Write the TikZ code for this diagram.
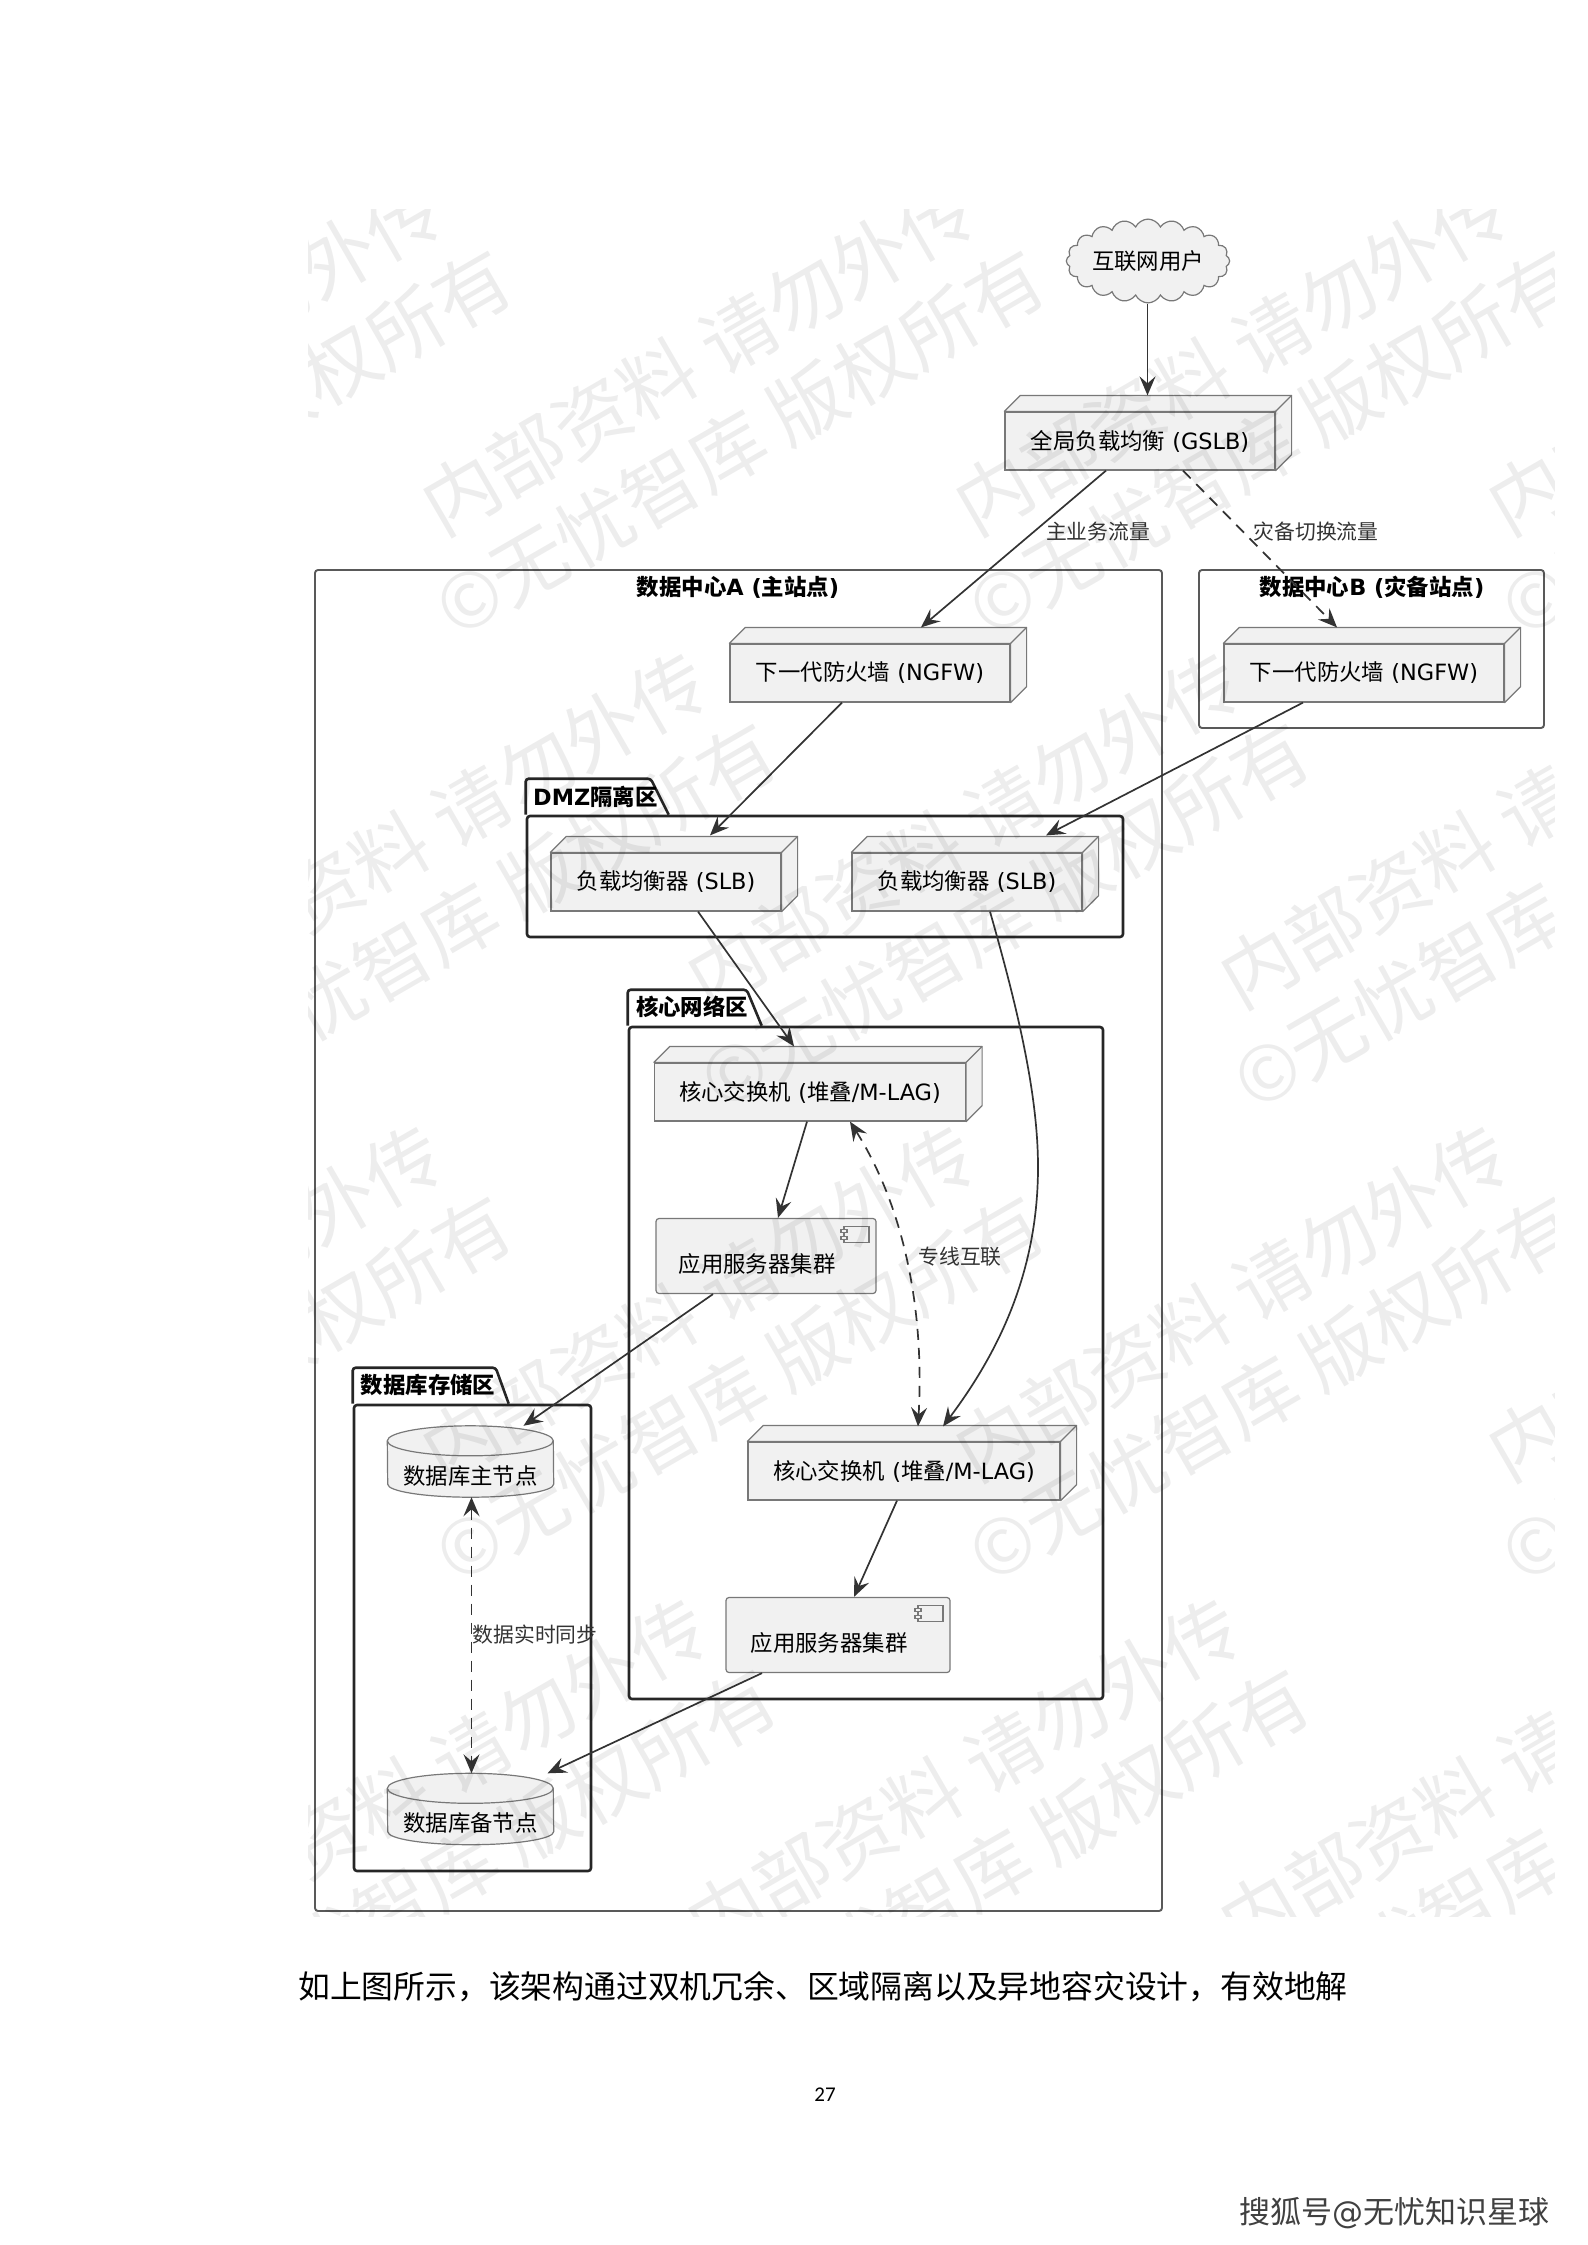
\documentclass[tikz,border=0pt]{standalone}
\usepackage{fontspec}
\setmainfont{DejaVu Sans}
\newfontfamily\cjk{Noto Sans CJK SC}
\newfontfamily\pagefont{Carlito}
\usetikzlibrary{arrows.meta, positioning, shapes.symbols, calc}
\definecolor{boxfill}{RGB}{241, 241, 241}
\definecolor{boxline}{RGB}{120, 120, 120}
\definecolor{flowline}{RGB}{51, 51, 51}
\newcommand{\zh}[1]{{\cjk #1}}
\newcommand{\mainsize}{\fontsize{22.4}{27}\selectfont}
\newcommand{\edgesize}{\fontsize{20.8}{25}\selectfont}

\begin{document}
\begin{tikzpicture}[x=1pt, y=-1pt,
    devbox/.style={draw=boxline, fill=boxfill, line width=1.2pt, minimum width=#1, minimum height=58,
                   inner sep=0pt, font=\mainsize,
                   append after command={\pgfextra{
                       \draw[draw=boxline, fill=boxfill, line width=1.2pt, line join=round]
                           (\tikzlastnode.north west) -- ++(16,-16) -- ([xshift=16pt,yshift=16pt]\tikzlastnode.north east)
                           -- ([xshift=16pt,yshift=16pt]\tikzlastnode.south east) -- (\tikzlastnode.south east)
                           -- (\tikzlastnode.north east) -- cycle;
                       \draw[draw=boxline, line width=1.2pt] (\tikzlastnode.north east) -- ++(16,-16);
                   }}},
    compbox/.style={draw=boxline, fill=boxfill, line width=1.2pt, rounded corners=3pt, minimum width=#1, minimum height=75,
                    inner sep=0pt, font=\mainsize, text height=35pt, text depth=3pt,
                    execute at end node={\hspace*{18pt}},
                    path picture={
                        \draw[draw=boxline, fill=boxfill, line width=1.1pt, sharp corners]
                            ([xshift=-32pt,yshift=-8pt]path picture bounding box.north east) rectangle ([xshift=-7pt,yshift=-24pt]path picture bounding box.north east);
                        \draw[draw=boxline, fill=boxfill, line width=1.1pt, sharp corners]
                            ([xshift=-35pt,yshift=-11pt]path picture bounding box.north east) rectangle ([xshift=-29pt,yshift=-14pt]path picture bounding box.north east);
                        \draw[draw=boxline, fill=boxfill, line width=1.1pt, sharp corners]
                            ([xshift=-35pt,yshift=-18pt]path picture bounding box.north east) rectangle ([xshift=-29pt,yshift=-21pt]path picture bounding box.north east);
                    }},
    dbbox/.style={minimum width=166, minimum height=71, inner sep=0pt, font=\mainsize, text height=48pt, text depth=3pt,
                  append after command={\pgfextra{
                      \draw[draw=boxline, fill=boxfill, line width=1.2pt]
                          ([yshift=-15pt]\tikzlastnode.north west) arc[x radius=83pt, y radius=15pt, start angle=180, end angle=0]
                          -- ([yshift=13pt]\tikzlastnode.south east) arc[x radius=83pt, y radius=13pt, start angle=0, end angle=-180] -- cycle;
                      \draw[draw=boxline, line width=1.2pt]
                          ([yshift=-15pt]\tikzlastnode.north west) arc[x radius=83pt, y radius=15pt, start angle=180, end angle=360];
                  }}},
    sitebox/.style={draw=black!65, line width=1.9pt, rounded corners=3pt, inner sep=0pt},
    pkgbox/.style args={#1/#2}{draw=black!85, line width=2.6pt, rounded corners=3pt, inner sep=0pt,
                   append after command={\pgfextra{
                       \draw[draw=black!85, line width=2.6pt, rounded corners=3pt, line join=round]
                           (\tikzlastnode.north west) -- ++(0,-36) -- ++(#1,0) -- ++(#2,36);
                   }}},
    title/.style={font=\bfseries\mainsize, inner sep=0pt},
    edgelabel/.style={font=\edgesize, inner sep=0pt, text=black!80},
    flow/.style={draw=flowline, line width=1.7pt, -{Stealth[length=19pt, width=16pt, inset=7pt]}},
    backup/.style={flow, dash pattern=on 11pt off 8pt},
    both/.style={backup, {Stealth[length=19pt, width=16pt, inset=7pt]}-{Stealth[length=19pt, width=16pt, inset=7pt]}},
]
    \useasboundingbox (0,0) rectangle (1587,2245);

    % outer frames
    \node[sitebox, minimum width=847, minimum height=1341] (sitea) at (738.5,1240.5) {};
    \node[sitebox, minimum width=345, minimum height=158] (siteb) at (1371.5,649) {};
    \node[title] (sitealabel) at (738,587) {\zh{数据中心}A (\zh{主站点})};
    \node[title] (siteblabel) at (1372,587) {\zh{数据中心}B (\zh{灾备站点})};

    % packages
    \node[pkgbox=125/18, minimum width=596, minimum height=121] (dmz) at (825,876.5) {};
    \node[title, anchor=west] (dmzlabel) at (533,797) {DMZ\zh{隔离区}};
    \node[pkgbox=119/15, minimum width=474, minimum height=672] (core) at (866,1363) {};
    \node[title] (corelabel) at (692,1007) {\zh{核心网络区}};
    \node[pkgbox=143/13, minimum width=237, minimum height=466] (dbzone) at (472.5,1638) {};
    \node[title] (dbzonelabel) at (428,1385) {\zh{数据库存储区}};

    % devices
    \node[shape=cloud, cloud puffs=20, cloud puff arc=130, aspect=2.3, draw=boxline, fill=boxfill, line width=1.2pt,
          minimum width=163, minimum height=73, inner sep=0pt, font=\mainsize] (users) at (1148,261) {\zh{互联网用户}};
    \node[devbox=270] (gslb) at (1140,441) {\zh{全局负载均衡} (GSLB)};
    \node[devbox=280] (ngfwa) at (870,673) {\zh{下一代防火墙} (NGFW)};
    \node[devbox=280] (ngfwb) at (1364,673) {\zh{下一代防火墙} (NGFW)};
    \node[devbox=230] (slba) at (666,882) {\zh{负载均衡器} (SLB)};
    \node[devbox=230] (slbb) at (967,882) {\zh{负载均衡器} (SLB)};
    \node[devbox=311] (corea) at (810,1092) {\zh{核心交换机} (\zh{堆叠}/M-LAG)};
    \node[devbox=312] (coreb) at (904,1471) {\zh{核心交换机} (\zh{堆叠}/M-LAG)};
    \node[compbox=220] (appa) at (766,1256) {\zh{应用服务器集群}};
    \node[compbox=224] (appb) at (838,1635) {\zh{应用服务器集群}};
    \node[dbbox] (dbm) at (470.5,1461.5) {\zh{数据库主节点}};
    \node[dbbox] (dbs) at (470.5,1809) {\zh{数据库备节点}};

    % connectors
    \draw[flow] ($(users.south)+(-0.5,0)$) -- ($(gslb.north)+(7.5,-16)$);
    \draw[flow] ($(gslb.south)+(-34,0)$) -- ($(ngfwa.north)+(51,-16)$);
    \draw[backup] ($(gslb.south)+(43,0)$) -- ($(ngfwb.north)+(-27,-16)$);
    \draw[flow] ($(ngfwa.south)+(-28,0)$) -- ($(slba.north)+(44,-17)$);
    \draw[flow] ($(ngfwb.south)+(-61,0)$) -- ($(slbb.north)+(79,-17)$);
    \draw[flow] ($(slba.south)+(32,0)$) -- ($(corea.north)+(-16,-16)$);
    \coordinate (slbbend) at (1038,1167);
    \draw[flow] ($(slbb.south)+(23,0)$) .. controls +(25,88) and +(0,-77) .. (slbbend)
        .. controls +(0,103) and +(57,-76) .. ($(coreb.north)+(39,-15)$);
    \draw[both] ($(corea.south)+(40,0)$) .. controls +(50,79) and +(7,-126) .. ($(coreb.north)+(14,-15)$);
    \draw[flow] ($(corea.south)+(-3,0)$) -- ($(appa.north)+(12,0)$);
    \draw[flow] ($(coreb.south)+(-7,0)$) -- ($(appb.north)+(16,0)$);
    \draw[flow] ($(appa.south)+(-53,0)$) -- ($(dbm.north)+(53,0)$);
    \draw[flow] ($(appb.south)+(-76,0)$) -- ($(dbs.north)+(77,0)$);
    \draw[both] ($(dbm.south)+(1,0)$) -- ($(dbs.north)+(1,0)$);

    % connector labels
    \node[edgelabel] (mainlabel) at (1098,532) {\zh{主业务流量}};
    \node[edgelabel] (failoverlabel) at (1316,532) {\zh{灾备切换流量}};
    \node[edgelabel] (linklabel) at (960,1257) {\zh{专线互联}};
    \node[edgelabel] (synclabel) at (535,1635) {\zh{数据实时同步}};

    % page text
    \node[anchor=west, inner sep=0pt, font=\fontsize{31.8}{36}\selectfont] (caption) at (298,1987)
        {\zh{如上图所示，该架构通过双机冗余、区域隔离以及异地容灾设计，有效地解}};
    \node[inner sep=0pt, font=\pagefont\fontsize{21}{25}\selectfont] (pageno) at (825,2095) {27};
    \node[anchor=east, inner sep=0pt, text=black!75, font=\fontsize{31}{36}\selectfont] (source) at (1550,2213) {\zh{搜狐号}@\zh{无忧知识星球}};

    % tiled marks
    \begin{scope}
        \clip (308,210) rectangle (1554,1916);
        \foreach \row/\rowx in {-1/-265, 0/265, 1/0, 2/265, 3/0, 4/265}
            \foreach \col in {-1,...,2} {
                \node[rotate=30, anchor=base west, inner sep=0pt, text=black, text opacity=0.07, font=\cjk\fontsize{76}{80}\selectfont]
                    at ({442+\rowx+\col*533},{538+\row*473-473}) {内部资料 请勿外传};
                \node[rotate=30, anchor=base west, inner sep=0pt, text=black, text opacity=0.07, font=\cjk\fontsize{76}{80}\selectfont]
                    at ({456+\rowx+\col*533},{640+\row*473-473}) {©无忧智库 版权所有};
            }
    \end{scope}
\end{tikzpicture}
\end{document}
